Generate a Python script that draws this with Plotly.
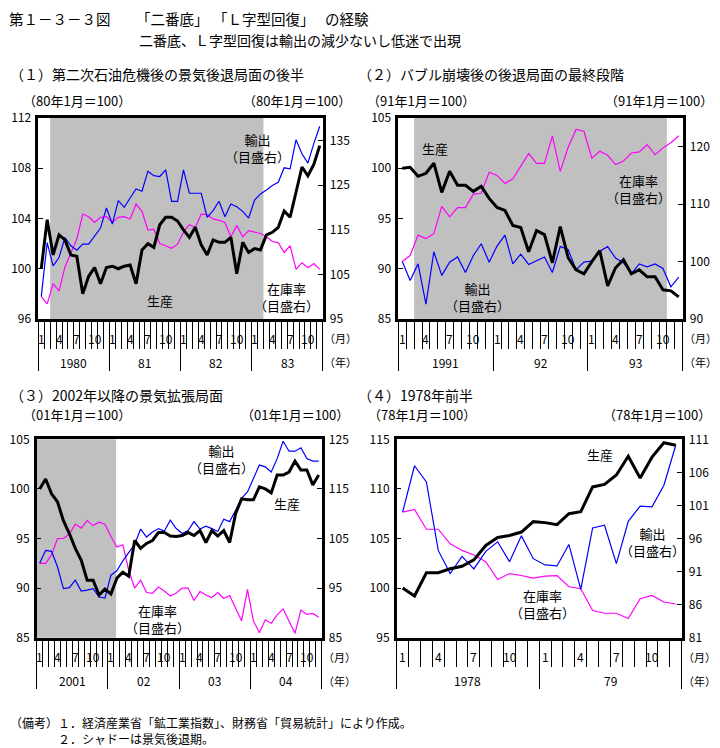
import plotly.graph_objects as go

W, H = 720, 748
OFF = 8  # the page body margin places the figure 8px right/down
FONT = "Noto Sans CJK JP"

# ---------------- data ----------------
MONTH_LABELS = ["1", "4", "7", "10"]

# (1) 1980.1 - 1983.12
P1_YEARS = ["1980", "81", "82", "83"]
P1_PROD = [100.0, 103.9, 101.1, 102.7, 102.3, 101.1, 101.0, 98.0, 99.4, 100.1, 98.8, 100.1,
           100.2, 100.0, 100.2, 100.3, 98.8, 101.5, 102.0, 101.7, 103.5, 104.1, 104.1, 103.8,
           103.1, 102.5, 103.3, 101.9, 101.1, 102.3, 102.1, 102.1, 102.5, 99.6, 102.1, 101.3,
           101.6, 101.5, 102.7, 102.9, 103.3, 104.6, 104.1, 106.1, 108.1, 107.4, 108.3, 109.8]
P1_EXP = [100.0, 112.1, 106.9, 108.75, 113.25, 111.4, 110.4, 111.75, 111.75, 113.6, 115.35, 119.85,
          116.25, 121.5, 120.0, 122.1, 124.1, 123.6, 128.1, 127.1, 126.9, 128.4, 121.35, 121.35,
          128.4, 123.15, 123.15, 123.15, 117.75, 119.25, 121.35, 117.9, 120.75, 120.15, 119.1, 117.6,
          121.65, 123.0, 123.9, 124.9, 125.6, 128.85, 128.6, 135.15, 132.0, 129.9, 134.25, 138.15]
P1_INV = [100.0, 98.4, 102.9, 101.25, 106.65, 109.9, 112.9, 118.5, 117.9, 116.6, 117.75, 117.9,
          116.6, 117.75, 117.9, 117.4, 120.75, 119.1, 114.9, 115.1, 111.9, 111.4, 110.85, 111.75,
          114.4, 116.1, 115.5, 118.5, 118.35, 117.4, 117.1, 116.6, 113.4, 115.9, 113.4, 114.75,
          114.4, 114.15, 113.4, 112.35, 112.1, 109.9, 111.4, 106.1, 107.6, 106.5, 107.4, 106.1]
P1_SHADE = [1.5, 37.5]

# (2) 1991.1 - 1993.12
P2_YEARS = ["1991", "92", "93"]
P2_PROD = [100.0, 100.1, 99.2, 99.5, 100.5, 97.6, 99.7, 98.3, 98.3, 97.7, 98.2, 97.0,
           96.1, 95.8, 94.3, 94.1, 91.7, 93.8, 93.4, 90.6, 94.2, 91.1, 89.9, 89.5,
           90.7, 91.8, 88.3, 90.1, 90.9, 89.5, 89.9, 89.2, 89.2, 87.9, 87.8, 87.2]
P2_EXP = [100.0, 96.7, 99.6, 92.6, 101.7, 97.6, 99.9, 100.8, 98.1, 101.05, 103.1, 99.9,
          102.7, 104.6, 99.6, 101.3, 99.5, 100.1, 100.8, 98.1, 102.6, 102.1, 98.6, 99.9,
          100.1, 101.8, 102.6, 100.6, 99.8, 97.9, 99.6, 99.1, 99.6, 98.8, 95.6, 97.3]
P2_INV = [100.0, 101.05, 104.6, 104.0, 104.85, 109.6, 107.8, 109.4, 109.4, 111.75, 111.9, 115.55,
          115.0, 113.6, 114.4, 116.55, 118.8, 117.1, 117.1, 121.9, 115.7, 119.9, 123.0, 122.7,
          118.0, 119.2, 118.5, 116.9, 117.5, 118.9, 119.1, 120.35, 118.6, 119.8, 120.7, 121.9]
P2_SHADE = [1.5, 33.5]

# (3) 2001.1 - 2004.12
P3_YEARS = ["2001", "02", "03", "04"]
P3_PROD = [100.0, 101.0, 99.5, 98.7, 96.8, 95.5, 94.0, 92.8, 90.8, 90.8, 89.3, 89.9,
           89.4, 91.0, 91.6, 91.2, 94.8, 94.0, 94.5, 94.8, 95.6, 95.6, 95.25, 95.2,
           95.3, 95.6, 95.3, 95.8, 94.6, 95.8, 95.25, 95.8, 94.6, 97.5, 99.0, 98.9,
           98.9, 100.2, 100.0, 99.6, 101.4, 101.4, 101.7, 102.8, 101.9, 101.9, 100.4, 101.4]
P3_EXP = [100.0, 102.6, 102.4, 99.3, 94.9, 95.1, 96.6, 94.4, 94.6, 94.9, 93.2, 93.0,
          97.6, 98.5, 100.5, 102.2, 103.8, 106.9, 105.3, 106.3, 107.0, 106.5, 108.7, 107.0,
          106.0, 106.6, 108.4, 106.9, 107.5, 107.0, 106.4, 108.9, 108.4, 110.7, 113.1, 114.4,
          117.2, 119.8, 119.45, 118.4, 121.1, 124.6, 122.6, 122.6, 123.3, 121.1, 120.6, 120.6]
P3_INV = [100.0, 100.0, 101.7, 105.0, 105.0, 105.9, 107.9, 107.1, 108.6, 107.6, 108.3, 107.9,
          105.4, 103.3, 103.75, 98.6, 95.0, 96.6, 94.1, 93.95, 95.2, 94.4, 93.4, 94.0,
          95.0, 95.0, 92.5, 94.3, 93.6, 93.1, 94.1, 92.9, 93.5, 91.0, 88.4, 94.75,
          88.4, 86.0, 88.6, 87.9, 89.6, 90.8, 88.4, 85.9, 90.6, 89.7, 89.9, 89.1]
P3_SHADE = [-0.5, 12.87]

# (4) 1978.1 - 1979.12
P4_YEARS = ["1978", "79"]
P4_PROD = [100.0, 99.2, 101.55, 101.55, 101.95, 102.2, 102.85, 104.3, 105.1, 105.3, 105.65, 106.7,
           106.6, 106.4, 107.5, 107.7, 110.2, 110.45, 111.4, 113.3, 111.1, 113.2, 114.65, 114.4]
P4_EXP = [100.0, 107.0, 104.55, 94.2, 90.7, 93.3, 91.4, 94.05, 95.5, 92.5, 96.4, 92.95,
          92.0, 91.85, 95.1, 88.3, 97.6, 98.0, 92.2, 98.6, 100.9, 100.8, 104.05, 110.1]
P4_INV = [100.0, 100.4, 97.4, 97.4, 95.2, 94.2, 93.5, 92.5, 89.8, 90.7, 90.4, 90.0,
          90.3, 90.4, 88.7, 88.4, 85.1, 84.7, 84.7, 83.9, 86.9, 87.4, 86.4, 86.1]
P4_SHADE = None

PANELS = [
    dict(box=(38.3, 118, 322.7, 319), years=P1_YEARS, prod=P1_PROD, exp=P1_EXP, inv=P1_INV,
         shade=P1_SHADE, yl=(96, 112, 4), yr=(95, 140, 10)),
    dict(box=(398.3, 118, 682.7, 319), years=P2_YEARS, prod=P2_PROD, exp=P2_EXP, inv=P2_INV,
         shade=P2_SHADE, yl=(85, 105, 5), yr=(90, 125, 10)),
    dict(box=(36.7, 439.3, 321.7, 637.7), years=P3_YEARS, prod=P3_PROD, exp=P3_EXP, inv=P3_INV,
         shade=P3_SHADE, yl=(85, 105, 5), yr=(85, 125, 10)),
    dict(box=(396.7, 439.3, 681.7, 637.7), years=P4_YEARS, prod=P4_PROD, exp=P4_EXP, inv=P4_INV,
         shade=P4_SHADE, yl=(95, 115, 5), yr=(81, 111, 5)),
]


def px(x):
    return (x - OFF) / W


def py(y):
    return 1 - (y - OFF) / H


def key(prefix, n):
    return f"{prefix}axis" if n == 1 else f"{prefix}axis{n}"


def ref(prefix, n):
    return prefix if n == 1 else f"{prefix}{n}"


fig = go.Figure()
layout = dict(template="none", width=W, height=H, autosize=False,
              margin=dict(l=0, r=0, t=0, b=0, pad=0),
              paper_bgcolor="white", plot_bgcolor="white", showlegend=False,
              font=dict(family=FONT, size=12, color="black"))
annotations = []
shapes = []

for k, p in enumerate(PANELS, start=1):
    x0, y0, x1, y1 = p["box"]
    n = len(p["prod"])
    xs = list(range(n))
    xid = ref("x", k)
    ybase = ref("y", 2 * k - 1)   # right-hand axis (base)
    yover = ref("y", 2 * k)       # left-hand axis (overlay)

    layout[key("x", k)] = dict(
        domain=[px(x0), px(x1)], anchor=ybase, range=[-0.5, n - 0.5], automargin=False,
        showticklabels=False, tickmode="array",
        tickvals=[-0.5 + 12 * j for j in range(len(p["years"]) + 1)],
        ticks="outside", ticklen=49, tickwidth=1, tickcolor="black",
        showline=True, linewidth=2.5, linecolor="black", mirror=True,
        showgrid=False, zeroline=False,
        minor=dict(ticks="outside", ticklen=27, tickwidth=1, tickcolor="black",
                   tickmode="linear", tick0=-0.5, dtick=1, showgrid=False),
    )
    ylo, yhi, yd = p["yr"]
    layout[key("y", 2 * k - 1)] = dict(
        domain=[py(y1), py(y0)], anchor=xid, side="right", range=[ylo, yhi], automargin=False,
        tickmode="linear", tick0=ylo, dtick=yd, ticks="inside", ticklen=5, tickwidth=1,
        tickcolor="black", showline=True, linewidth=2.5, linecolor="black",
        showgrid=False, zeroline=False, tickfont=dict(size=12), ticklabelstandoff=2,
    )
    llo, lhi, ld = p["yl"]
    layout[key("y", 2 * k)] = dict(
        overlaying=ybase, anchor=xid, side="left", range=[llo, lhi], automargin=False,
        tickmode="linear", tick0=llo, dtick=ld, ticks="inside", ticklen=5, tickwidth=1,
        tickcolor="black", showline=True, linewidth=2.5, linecolor="black",
        showgrid=False, zeroline=False, tickfont=dict(size=12), ticklabelstandoff=2,
    )

    if p["shade"]:
        shapes.append(dict(type="rect", xref=xid, yref=f"{ybase} domain",
                           x0=p["shade"][0], x1=p["shade"][1], y0=0, y1=1,
                           fillcolor="#c0c0c0", line=dict(width=0), layer="below"))

    fig.add_trace(go.Scatter(x=xs, y=p["inv"], mode="lines", xaxis=xid, yaxis=ybase,
                             line=dict(color="#ff00ff", width=1.2), name="在庫率"))
    fig.add_trace(go.Scatter(x=xs, y=p["exp"], mode="lines", xaxis=xid, yaxis=ybase,
                             line=dict(color="#0000ff", width=1.2), name="輸出"))
    fig.add_trace(go.Scatter(x=xs, y=p["prod"], mode="lines", xaxis=xid, yaxis=yover,
                             line=dict(color="black", width=3), name="生産"))

    # month and year labels
    for j, yr in enumerate(p["years"]):
        for m in MONTH_LABELS:
            annotations.append(dict(x=12 * j + int(m) - 1, xref=xid, y=py(y1 + 19), yref="paper",
                                    text=m, showarrow=False, font=dict(size=12),
                                    xanchor="center", yanchor="middle"))
        annotations.append(dict(x=12 * j + 5.5, xref=xid, y=py(y1 + 43), yref="paper",
                                text=yr, showarrow=False, font=dict(size=12),
                                xanchor="center", yanchor="middle"))
    annotations.append(dict(x=px(x1 - 1), y=py(y1 + 19), xref="paper", yref="paper", text="（月）",
                            showarrow=False, font=dict(size=11), xanchor="left", yanchor="middle"))
    annotations.append(dict(x=px(x1 - 1), y=py(y1 + 43), xref="paper", yref="paper", text="（年）",
                            showarrow=False, font=dict(size=11), xanchor="left", yanchor="middle"))


def txt(x, y, s, size=13, anchor="center"):
    annotations.append(dict(x=px(x), y=py(y), xref="paper", yref="paper", text=s,
                            showarrow=False, font=dict(size=size), xanchor=anchor,
                            yanchor="middle", align="center"))


# titles (main title set in pieces to follow the original's wide spacing)
TY = 19
txt(7, TY, "第１－３－３図", 14.5, "left")
txt(134, TY, "「二番底」", 14.5, "left")
txt(211, TY, "「Ｌ字型回復」", 14.5, "left")
txt(323, TY, "の経験", 14.5, "left")
txt(137, 40, "二番底、Ｌ字型回復は輸出の減少ないし低迷で出現", 14, "left")
txt(8, 74, "（１）第二次石油危機後の景気後退局面の後半", 14, "left")
txt(356, 74, "（２）バブル崩壊後の後退局面の最終段階", 14, "left")
txt(8, 395, "（３）2002年以降の景気拡張局面", 14, "left")
txt(356, 395, "（４）1978年前半", 14, "left")

# units
txt(21, 100, "（80年1月＝100）", 13, "left")
txt(353, 100, "（80年1月＝100）", 13, "right")
txt(365, 100, "（91年1月＝100）", 13, "left")
txt(715, 100, "（91年1月＝100）", 13, "right")
txt(21, 415, "（01年1月＝100）", 13, "left")
txt(351, 415, "（01年1月＝100）", 13, "right")
txt(366, 415, "（78年1月＝100）", 13, "left")
txt(713, 415, "（78年1月＝100）", 13, "right")

# series labels
EXP_LBL = "輸出<br>（目盛右）"
INV_LBL = "在庫率<br>（目盛右）"
PROD_LBL = "生産"

txt(257, 148, EXP_LBL)
txt(160, 300, PROD_LBL)
txt(286, 296.5, INV_LBL)

txt(435, 149, PROD_LBL)
txt(638, 188.5, INV_LBL)
txt(477.5, 297, EXP_LBL)

txt(221, 458.5, EXP_LBL)
txt(287, 503, PROD_LBL)
txt(157, 618.5, INV_LBL)

txt(600, 454, PROD_LBL)
txt(652.5, 541.5, EXP_LBL)
txt(542, 603.5, INV_LBL)

# notes
txt(8, 722, "（備考）１．経済産業省「鉱工業指数」、財務省「貿易統計」により作成。", 12, "left")
txt(56, 738, "２．シャドーは景気後退期。", 12, "left")

layout["annotations"] = annotations
layout["shapes"] = shapes
fig.update_layout(**layout)
fig.write_html("out.html")
